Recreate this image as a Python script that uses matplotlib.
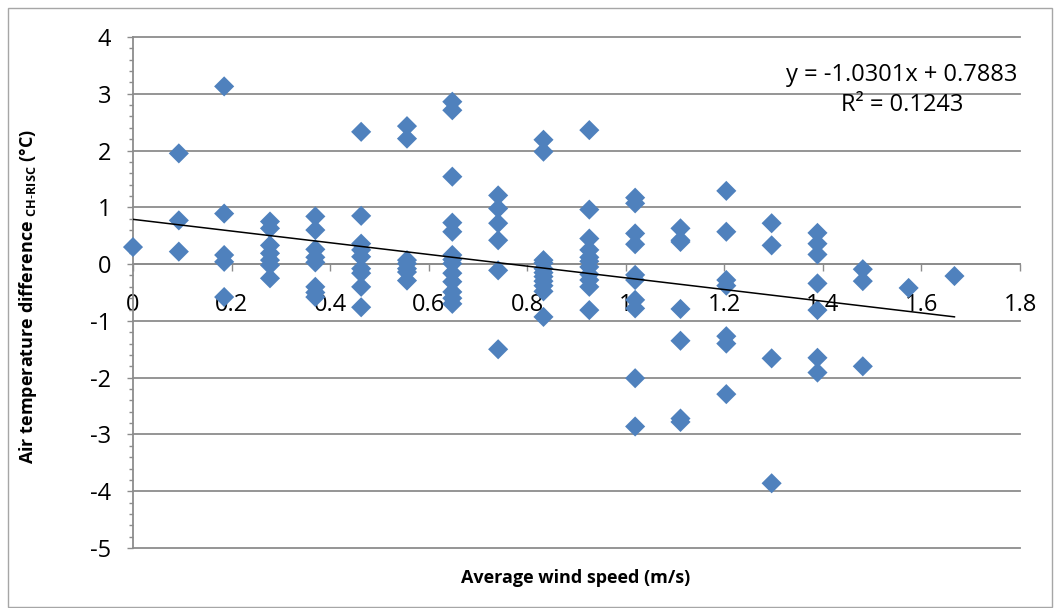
import numpy as np
import matplotlib
matplotlib.use("Agg")
import matplotlib.pyplot as plt
from matplotlib.ticker import MultipleLocator, FuncFormatter
from matplotlib.patches import Rectangle

# ---- data ----
speed_levels = [0.0, 0.093, 0.185, 0.278, 0.370, 0.463, 0.556, 0.648, 0.741,
                0.833, 0.926, 1.019, 1.111, 1.204, 1.296, 1.389, 1.481, 1.574, 1.667]

temp_diff_groups = [
    [0.30],
    [1.95, 0.77, 0.22],
    [3.13, 0.89, 0.16, 0.04, -0.58],
    [0.75, 0.63, 0.33, 0.19, 0.07, -0.02, -0.25],
    [0.84, 0.60, 0.26, 0.12, 0.03, -0.40, -0.50, -0.58],
    [2.33, 0.85, 0.36, 0.25, 0.13, -0.08, -0.16, -0.40, -0.76],
    [2.43, 2.21, 0.07, 0.01, -0.08, -0.14, -0.29],
    [2.86, 2.71, 1.54, 0.73, 0.57, 0.16, 0.08, 0.01, -0.16, -0.31, -0.49, -0.60, -0.70],
    [1.21, 0.98, 0.72, 0.42, -0.11, -1.50],
    [2.19, 1.98, 0.07, 0.02, -0.08, -0.15, -0.22, -0.30, -0.38, -0.48, -0.93],
    [2.36, 0.96, 0.45, 0.25, 0.12, 0.05, -0.05, -0.18, -0.28, -0.40, -0.81],
    [1.17, 1.07, 0.54, 0.35, -0.19, -0.28, -0.63, -0.78, -2.01, -2.86],
    [0.63, 0.42, 0.39, -0.79, -1.35, -2.72, -2.78],
    [1.29, 0.57, -0.28, -0.38, -1.27, -1.40, -2.29],
    [0.72, 0.33, -1.66, -3.86],
    [0.55, 0.36, 0.17, -0.34, -0.81, -1.65, -1.91],
    [-0.09, -0.30, -1.80],
    [-0.42],
    [-0.21],
]

trend_slope = -1.0301
trend_intercept = 0.7883
r_squared = 0.1243

x_ticks = [0, 0.2, 0.4, 0.6, 0.8, 1.0, 1.2, 1.4, 1.6, 1.8]
y_ticks = [-5, -4, -3, -2, -1, 0, 1, 2, 3, 4]

x_label = "Average wind speed (m/s)"
y_label = r"Air temperature difference $_{\mathbf{CH\text{-}RISC}}$ (°C)"

# ---- build flat arrays ----
wind = np.concatenate([[s] * len(g) for s, g in zip(speed_levels, temp_diff_groups)])
temp = np.concatenate([g for g in temp_diff_groups])

plt.rcParams["font.family"] = ["Open Sans", "DejaVu Sans"]
plt.rcParams["axes.unicode_minus"] = False
plt.rcParams["mathtext.fontset"] = "custom"
plt.rcParams["mathtext.rm"] = "Open Sans"
plt.rcParams["mathtext.bf"] = "Open Sans:bold"

W, H = 1060, 608
fig = plt.figure(figsize=(W / 100, H / 100), dpi=100)
fig.patch.set_facecolor("white")

# outer chart border
fig.patches.append(Rectangle((8 / W, 1 / H), (W - 16) / W, (H - 9) / H,
                             transform=fig.transFigure, fill=False,
                             edgecolor="#a6a6a6", lw=1.0))

L, R, T, B = 133, 1020, 37, 548
ax = fig.add_axes([L / W, 1 - B / H, (R - L) / W, (B - T) / H])
ax.set_xlim(0, 1.8)
ax.set_ylim(-5, 4)

grid_col = "#8c8c8c"
for yv in y_ticks:
    ax.axhline(yv, color=grid_col, lw=1.3, zorder=1, clip_on=False)

ax.spines["top"].set_visible(False)
ax.spines["right"].set_visible(False)
ax.spines["left"].set_color(grid_col)
ax.spines["left"].set_linewidth(1.3)
ax.spines["bottom"].set_position(("data", 0))
ax.spines["bottom"].set_color(grid_col)
ax.spines["bottom"].set_linewidth(1.3)

ax.set_xticks(x_ticks)
ax.xaxis.set_major_formatter(FuncFormatter(lambda v, p: f"{v:g}"))
ax.set_yticks(y_ticks)
ax.yaxis.set_minor_locator(MultipleLocator(0.2))
ax.tick_params(axis="x", direction="out", length=5, width=1.0, color=grid_col,
               pad=16, labelsize=17, labelcolor="black")
ax.tick_params(axis="y", which="major", direction="out", length=4.5, width=1.0,
               color=grid_col, pad=11, labelsize=17, labelcolor="black")
ax.tick_params(axis="y", which="minor", direction="out", length=3, width=1.0,
               color=grid_col)

ax.scatter(wind, temp, marker="D", s=105, color="#4f81bd", edgecolors="none",
           zorder=3, clip_on=False)

xs = np.array([0.0, max(speed_levels)])
ax.plot(xs, trend_slope * xs + trend_intercept, color="black", lw=1.1, zorder=4)

ax.text(902 / W, 1 - 75 / H, f"y = {trend_slope:.4f}x + {trend_intercept:.4f}",
        transform=fig.transFigure, ha="center", va="center", fontsize=17)
ax.text(902 / W, 1 - 105 / H, f"R² = {r_squared:.4f}",
        transform=fig.transFigure, ha="center", va="center", fontsize=17)

fig.text(576 / W, 1 - 578 / H, x_label, ha="center", va="center",
         fontsize=13, fontweight="bold")
fig.text(28 / W, 1 - 297 / H, y_label, ha="center", va="center", rotation=90,
         fontsize=13, fontweight="bold")

fig.savefig("out.png", dpi=100, facecolor="white")
